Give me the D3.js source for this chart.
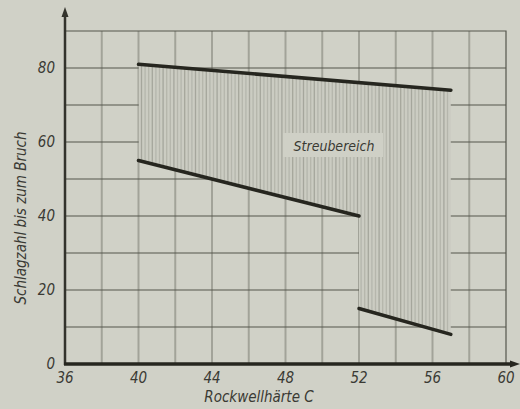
<!DOCTYPE html>
<html>
<head>
<meta charset="UTF-8">
<script src="https://d3js.org/d3.v7.min.js"></script>
<style>
  body { margin: 0; background: #d0d1c7; }
  text { font-family: "DejaVu Sans Condensed", "DejaVu Sans", sans-serif; font-style: italic; fill: #3a3a34; }
</style>
</head>
<body>
<svg id="canvas"></svg>
<script>
  width = 520;
  height = 409;

  // data
  xTicks = [36, 40, 44, 48, 52, 56, 60];
  yTicks = [0, 20, 40, 60, 80];
  xGrid = [38, 40, 42, 44, 46, 48, 50, 52, 54, 56, 58];
  yGrid = [10, 20, 30, 40, 50, 60, 70, 80];
  // Streubereich boundaries
  upperX = [40, 57];
  upperY = [81, 74];
  lowerLeftX = [40, 52];
  lowerLeftY = [55, 40];
  lowerRightX = [52, 57];
  lowerRightY = [15, 8];

  x = d3.scaleLinear().domain([36, 60]).range([65, 506]);
  y = d3.scaleLinear().domain([0, 90]).range([364, 31]);

  svg = d3.select("#canvas").attr("width", width).attr("height", height);

  svg.append("rect").attr("width", width).attr("height", height).attr("fill", "#d0d1c7");

  // grid
  svg.selectAll(".vg").data(xGrid).enter().append("line")
    .attr("x1", d => x(d)).attr("x2", d => x(d))
    .attr("y1", y(90)).attr("y2", y(0))
    .attr("stroke", "#a2a399").attr("stroke-width", 2);

  svg.selectAll(".hg").data(yGrid).enter().append("line")
    .attr("x1", x(36)).attr("x2", x(60))
    .attr("y1", d => y(d)).attr("y2", d => y(d))
    .attr("stroke", "#55564d").attr("stroke-width", 1.2);

  // border top / right
  svg.append("path")
    .attr("d", "M" + x(36) + "," + y(90) + "H" + x(60) + "V" + y(0))
    .attr("fill", "none").attr("stroke", "#55564d").attr("stroke-width", 1.2);

  // scatter region
  regionPts = [
    [upperX[0], upperY[0]], [upperX[1], upperY[1]],
    [lowerRightX[1], lowerRightY[1]], [lowerRightX[0], lowerRightY[0]],
    [lowerLeftX[1], lowerLeftY[1]], [lowerLeftX[0], lowerLeftY[0]]
  ];
  region = d3.line().x(d => x(d[0])).y(d => y(d[1]));

  svg.append("clipPath").attr("id", "clip")
    .append("path").attr("d", region(regionPts) + "Z");

  g = svg.append("g").attr("clip-path", "url(#clip)");
  g.append("rect")
    .attr("x", x(40)).attr("y", y(90))
    .attr("width", x(57) - x(40)).attr("height", y(0) - y(90))
    .attr("fill", "#cbccc2");
  hatch = d3.range(x(40) + 3, x(57), 3.6);
  g.selectAll(".hatch").data(hatch).enter().append("line")
    .attr("x1", d => d).attr("x2", d => d)
    .attr("y1", y(90)).attr("y2", y(0))
    .attr("stroke", (d, i) => i % 3 === 0 ? "#a5a69c" : "#b5b6ac")
    .attr("stroke-width", 1.3);

  // label box
  svg.append("rect")
    .attr("x", 283).attr("y", 133).attr("width", 100).attr("height", 24)
    .attr("fill", "#cfd0c6");
  svg.append("text")
    .attr("x", 334).attr("y", 151)
    .attr("text-anchor", "middle").attr("font-size", 14)
    .text("Streubereich");

  // boundary lines
  bline = d3.line().x(d => x(d[0])).y(d => y(d[1]));
  [[upperX, upperY], [lowerLeftX, lowerLeftY], [lowerRightX, lowerRightY]].forEach(s => {
    svg.append("path")
      .attr("d", bline(s[0].map((v, i) => [v, s[1][i]])))
      .attr("fill", "none").attr("stroke", "#26261f").attr("stroke-width", 3.5)
      .attr("stroke-linecap", "round");
  });

  // axes
  svg.append("line")
    .attr("x1", x(36)).attr("x2", x(36))
    .attr("y1", 14).attr("y2", y(0) + 1)
    .attr("stroke", "#33332c").attr("stroke-width", 2.5);
  svg.append("path")
    .attr("d", "M" + x(36) + ",7 l-3.5,10 h7 z")
    .attr("fill", "#33332c");
  svg.append("line")
    .attr("x1", x(36) - 1).attr("x2", 513)
    .attr("y1", y(0)).attr("y2", y(0))
    .attr("stroke", "#26261f").attr("stroke-width", 3.5);
  svg.append("path")
    .attr("d", "M520," + y(0) + " l-10,-3.5 v7 z")
    .attr("fill", "#26261f");

  // tick labels
  svg.selectAll(".yl").data(yTicks).enter().append("text")
    .attr("x", 55).attr("y", d => y(d) + 5)
    .attr("text-anchor", "end").attr("font-size", 15)
    .text(d => d);
  svg.selectAll(".xl").data(xTicks).enter().append("text")
    .attr("x", d => x(d)).attr("y", 383)
    .attr("text-anchor", "middle").attr("font-size", 15)
    .text(d => d);

  // axis titles
  svg.append("text")
    .attr("x", 259).attr("y", 402)
    .attr("text-anchor", "middle").attr("font-size", 15)
    .text("Rockwellhärte C");
  svg.append("text")
    .attr("transform", "translate(26,218) rotate(-90)")
    .attr("text-anchor", "middle").attr("font-size", 15)
    .text("Schlagzahl bis zum Bruch");
</script>
</body>
</html>
